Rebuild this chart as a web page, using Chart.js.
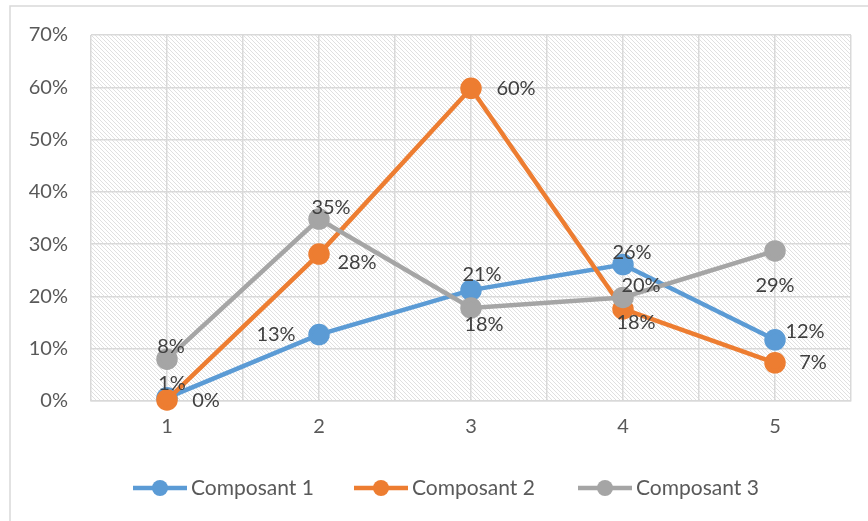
<!DOCTYPE html>
<html>
<head>
<meta charset="utf-8">
<script src="https://cdn.jsdelivr.net/npm/chart.js@4/dist/chart.umd.min.js"></script>
<style>
  html, body { margin: 0; padding: 0; background: #ffffff; }
  canvas { display: block; }
</style>
</head>
<body>
<canvas id="chart" width="868" height="521"></canvas>
<script>
// ---- data ----
const categories = [1, 2, 3, 4, 5];
const seriesNames = ['Composant 1', 'Composant 2', 'Composant 3'];
const composant1 = [0.006, 0.127, 0.212, 0.261, 0.117];
const composant2 = [0.002, 0.281, 0.598, 0.176, 0.073];
const composant3 = [0.080, 0.348, 0.178, 0.198, 0.287];
const yTickValues = [0, 0.1, 0.2, 0.3, 0.4, 0.5, 0.6, 0.7];

// ---- styling ----
const seriesColors = ['#5B9BD5', '#ED7D31', '#A5A5A5'];
const FONT = 'Lato, "Open Sans", "Liberation Sans", sans-serif';
const AXIS_TEXT = '#595959';
const LABEL_TEXT = '#404040';
const GRID = '#d9d9d9';

// where each value label sits relative to its point (dx, dy in px)
const labelOffsets = [
  [[5, -14], [-43, 0], [11, -16], [9, -12], [30, -8]],
  [[39, 1], [38, 8], [45, 0], [13, 14], [38, 0]],
  [[4, -13], [12, -11], [13, 17], [18, -12], [0, 35]]
];
// left edge of each legend entry
const legendStarts = [133, 354, 578];

const pct = v => Math.round(v * 100) + '%';

function makeHatch() {
  const t = document.createElement('canvas');
  t.width = 4; t.height = 4;
  const g = t.getContext('2d');
  g.fillStyle = '#ffffff';
  g.fillRect(0, 0, 4, 4);
  g.fillStyle = '#e0e0e0';
  for (let i = 0; i < 4; i++) g.fillRect(i, i, 1, 1);
  return t;
}

const backgroundPlugin = {
  id: 'background',
  beforeDraw(chart) {
    const { ctx, chartArea: a } = chart;
    ctx.save();
    ctx.fillStyle = '#ffffff';
    ctx.fillRect(0, 0, chart.width, chart.height);
    ctx.strokeStyle = GRID;
    ctx.lineWidth = 1.5;
    ctx.strokeRect(10, 6, chart.width + 20, chart.height + 20);
    ctx.fillStyle = ctx.createPattern(makeHatch(), 'repeat');
    ctx.fillRect(a.left, a.top, a.right - a.left, a.bottom - a.top);
    ctx.restore();
  }
};

const valueLabelPlugin = {
  id: 'valueLabels',
  afterDatasetsDraw(chart) {
    const { ctx } = chart;
    ctx.save();
    ctx.font = '20px ' + FONT;
    ctx.fillStyle = LABEL_TEXT;
    ctx.textAlign = 'center';
    ctx.textBaseline = 'middle';
    chart.data.datasets.forEach((ds, di) => {
      const meta = chart.getDatasetMeta(di);
      meta.data.forEach((pt, i) => {
        const [dx, dy] = labelOffsets[di][i];
        ctx.fillText(pct(ds.data[i].y), pt.x + dx, pt.y + dy);
      });
    });
    ctx.restore();
  }
};

const legendPlugin = {
  id: 'lineLegend',
  afterDraw(chart) {
    const { ctx } = chart;
    const y = 488;
    ctx.save();
    ctx.font = '21px ' + FONT;
    ctx.textBaseline = 'middle';
    ctx.textAlign = 'left';
    chart.data.datasets.forEach((ds, k) => {
      const x = legendStarts[k];
      ctx.strokeStyle = ds.borderColor;
      ctx.lineWidth = 4.5;
      ctx.beginPath();
      ctx.moveTo(x, y);
      ctx.lineTo(x + 54, y);
      ctx.stroke();
      ctx.fillStyle = ds.borderColor;
      ctx.beginPath();
      ctx.arc(x + 27, y, 8, 0, Math.PI * 2);
      ctx.fill();
      ctx.fillStyle = AXIS_TEXT;
      ctx.fillText(ds.label, x + 58, y);
    });
    ctx.restore();
  }
};

const seriesValues = [composant1, composant2, composant3];

function draw() {
  new Chart(document.getElementById('chart'), {
    type: 'line',
    data: {
      datasets: seriesValues.map((vals, k) => ({
        label: seriesNames[k],
        data: categories.map((c, i) => ({ x: c, y: vals[i] })),
        borderColor: seriesColors[k],
        backgroundColor: seriesColors[k],
        pointBackgroundColor: seriesColors[k],
        pointBorderColor: seriesColors[k],
        borderWidth: 4.5,
        pointRadius: 8.5,
        pointHoverRadius: 8.5,
        tension: 0,
        clip: false,
        order: 3 - k
      }))
    },
    options: {
      responsive: false,
      animation: false,
      devicePixelRatio: 1,
      layout: { padding: { left: 0, top: 35, right: 17, bottom: 0 } },
      plugins: {
        legend: { display: false },
        tooltip: { enabled: false },
        title: { display: false }
      },
      scales: {
        x: {
          type: 'linear',
          min: categories[0] - 0.5,
          max: categories[categories.length - 1] + 0.5,
          ticks: {
            stepSize: 0.5,
            color: AXIS_TEXT,
            font: { family: FONT, size: 20 },
            padding: 14,
            maxRotation: 0,
            autoSkip: false,
            callback: v => (Number.isInteger(v) ? String(v) : '')
          },
          grid: { color: GRID, lineWidth: 1.5, drawTicks: false },
          border: { color: GRID, width: 1.5 },
          afterFit: s => { s.height = 120; }
        },
        y: {
          min: yTickValues[0],
          max: yTickValues[yTickValues.length - 1],
          afterBuildTicks: s => { s.ticks = yTickValues.map(v => ({ value: v })); },
          ticks: {
            color: AXIS_TEXT,
            font: { family: FONT, size: 20 },
            padding: 23,
            callback: v => pct(v)
          },
          grid: { color: GRID, lineWidth: 1.5, drawTicks: false },
          border: { display: false },
          afterFit: s => { s.width = 91; }
        }
      }
    },
    plugins: [backgroundPlugin, valueLabelPlugin, legendPlugin]
  });
}

if (document.fonts && document.fonts.load) {
  document.fonts.load('20px Lato').then(draw, draw);
} else {
  draw();
}
</script>
</body>
</html>
